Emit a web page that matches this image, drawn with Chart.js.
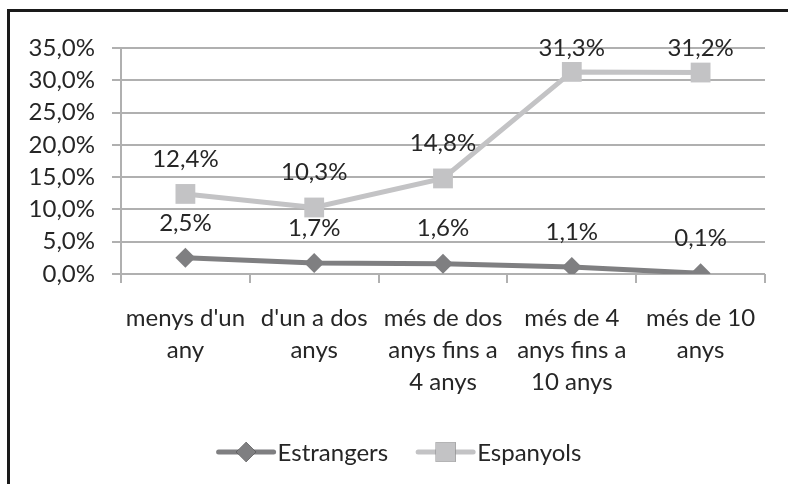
<!DOCTYPE html>
<html>
<head>
<meta charset="utf-8">
<script src="https://cdn.jsdelivr.net/npm/chart.js@4.4.1/dist/chart.umd.min.js"></script>
<style>
  body { margin: 0; background: #fff; }
  #wrap { position: relative; width: 788px; height: 484px; overflow: hidden; }
  #frame {
    position: absolute; left: 7px; top: 9px; width: 800px; height: 500px;
    border-left: 3px solid #1a1a1a; border-top: 3px solid #1a1a1a;
  }
  #chart { position: absolute; left: 0; top: 0; }
</style>
</head>
<body>
<div id="wrap">
  <div id="frame"></div>
  <canvas id="chart" width="788" height="484"></canvas>
</div>
<script>
// categories (wrapped as they appear under the axis)
const categories = [
    ["menys d'un", "any"],
    ["d'un a dos", "anys"],
    ["més de dos", "anys fins a", "4 anys"],
    ["més de 4", "anys fins a", "10 anys"],
    ["més de 10", "anys"]
];
const estrangers = [2.5, 1.7, 1.6, 1.1, 0.1];
const espanyols = [12.4, 10.3, 14.8, 31.3, 31.2];
const yTicks = [0, 5, 10, 15, 20, 25, 30, 35];

const FONT = "Lato, 'Open Sans', sans-serif";
const SIZE = 24;
const TEXT = '#262626';
const GRID = '#b0b0b0';

const fmt = v => v.toFixed(1).replace('.', ',') + '%';

// value labels above each point
const valueLabels = {
    id: 'valueLabels',
    afterDatasetsDraw(chart) {
        const ctx = chart.ctx;
        ctx.save();
        ctx.font = SIZE + 'px ' + FONT;
        ctx.fillStyle = TEXT;
        ctx.textAlign = 'center';
        ctx.textBaseline = 'middle';
        chart.data.datasets.forEach((ds, i) => {
            chart.getDatasetMeta(i).data.forEach((pt, j) => {
                const y = Math.max(pt.y - 35, chart.chartArea.top);
                ctx.fillText(fmt(ds.data[j]), pt.x, y);
            });
        });
        ctx.restore();
    }
};

// legend: line with marker through it, then the name
const lineLegend = {
    id: 'lineLegend',
    afterDraw(chart) {
        const ctx = chart.ctx;
        const cy = 452, seg = 55, gapText = 4, gapItem = 30;
        ctx.save();
        ctx.font = SIZE + 'px ' + FONT;
        ctx.textBaseline = 'middle';
        const items = chart.data.datasets.map(ds => ({
            ds, w: seg + gapText + ctx.measureText(ds.label).width
        }));
        const total = items.reduce((s, it) => s + it.w, 0) + gapItem * (items.length - 1);
        let x = 400 - total / 2;
        items.forEach(({ ds, w }) => {
            ctx.strokeStyle = ds.borderColor;
            ctx.lineWidth = ds.borderWidth;
            ctx.lineCap = 'round';
            ctx.beginPath();
            ctx.moveTo(x, cy);
            ctx.lineTo(x + seg, cy);
            ctx.stroke();
            Chart.helpers.drawPoint(ctx, {
                pointStyle: ds.pointStyle,
                radius: ds.pointRadius,
                borderWidth: 0,
                rotation: 0
            }, x + seg / 2, cy);
            ctx.fillStyle = ds.pointBackgroundColor;
            ctx.fill();
            ctx.fillStyle = TEXT;
            ctx.fillText(ds.label, x + seg + gapText, cy + 1);
            x += w + gapItem;
        });
        ctx.restore();
    }
};

new Chart(document.getElementById('chart'), {
    type: 'line',
    data: {
        labels: categories,
        datasets: [{
            label: 'Estrangers',
            data: estrangers,
            borderColor: '#7f7f81',
            backgroundColor: '#7f7f81',
            pointBackgroundColor: '#7f7f81',
            borderWidth: 5,
            pointStyle: 'rectRot',
            pointRadius: 10,
            pointBorderWidth: 0
        }, {
            label: 'Espanyols',
            data: espanyols,
            borderColor: '#c3c3c5',
            backgroundColor: '#c3c3c5',
            pointBackgroundColor: '#c3c3c5',
            borderWidth: 5,
            pointStyle: 'rect',
            pointRadius: 14,
            pointBorderWidth: 0
        }]
    },
    options: {
        responsive: false,
        animation: false,
        layout: { padding: { left: 0, top: 48, right: 23, bottom: 0 } },
        plugins: {
            legend: { display: false },
            tooltip: { enabled: false }
        },
        scales: {
            x: {
                offset: true,
                grid: {
                    offset: true,
                    drawOnChartArea: false,
                    tickLength: 9,
                    color: GRID,
                    lineWidth: 2
                },
                border: { display: false },
                ticks: {
                    color: TEXT,
                    padding: 19,
                    maxRotation: 0,
                    autoSkip: false,
                    font: { family: FONT, size: SIZE, lineHeight: 1.34 }
                },
                afterFit(scale) { scale.height = 210; }
            },
            y: {
                min: 0,
                max: 35,
                afterBuildTicks(scale) {
                    scale.ticks = yTicks.map(v => ({ value: v }));
                },
                grid: { color: GRID, lineWidth: 2, tickLength: 9 },
                border: { color: GRID, width: 2 },
                ticks: {
                    color: TEXT,
                    padding: 17,
                    font: { family: FONT, size: SIZE },
                    callback: v => fmt(v)
                },
                afterFit(scale) { scale.width = 121; }
            }
        }
    },
    plugins: [valueLabels, lineLegend]
});
</script>
</body>
</html>
